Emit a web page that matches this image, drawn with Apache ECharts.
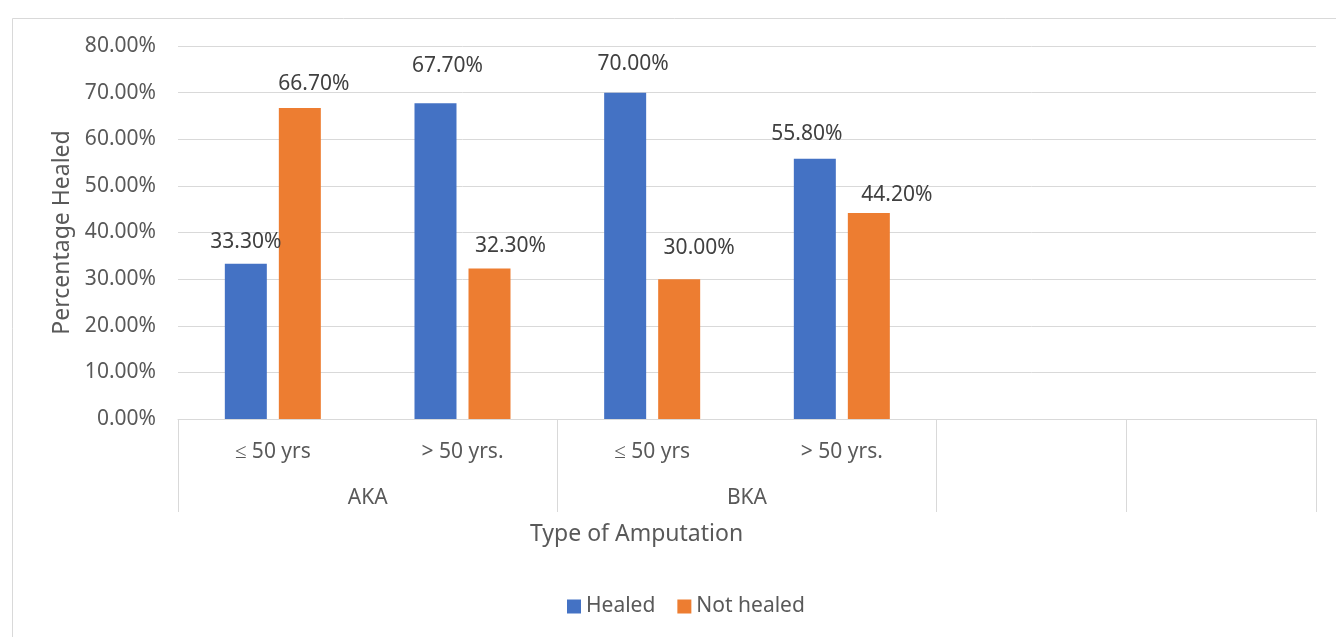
<!DOCTYPE html>
<html>
<head>
<meta charset="utf-8">
<script src="https://cdn.jsdelivr.net/npm/echarts@6/dist/echarts.min.js"></script>
<style>
  html, body { margin: 0; padding: 0; background: #fff; }
  #chart { width: 1336px; height: 637px; }
</style>
</head>
<body>
<div id="chart"></div>
<script>
// Age bands (inner axis level) and amputation types (outer level)
const ageBands = ['≤ 50 yrs', '> 50 yrs.', '≤ 50 yrs', '> 50 yrs.', '', ''];
const amputationTypes = ['AKA', 'BKA'];
// Outer group boundaries and centres, in category units
const groupBounds = [0, 2, 4, 5, 6];
const groupCentres = [1, 3];

// Percentages
const healed = [33.3, 67.7, 70.0, 55.8, null, null];
const notHealed = [66.7, 32.3, 30.0, 44.2, null, null];

// Value ticks on the y axis
const yTicks = { min: 0, max: 80, interval: 10 };

// Hand-placed label nudges [dx, dy]
const healedLabelShift = [[0, -6], [12, -22], [8, -13], [-8, -9]];
const notHealedLabelShift = [[14, -8], [21, -7], [20, -16], [28, -2]];

const FONT = 'Noto Sans';
const TEXT = '#595959';
const LINE = '#d9d9d9';

function withLabels(values, shifts) {
  return values.map((v, i) => {
    if (v === null) return null;
    const s = shifts[i] || [0, 0];
    return { value: v, label: { offset: s } };
  });
}

const labelStyle = {
  show: true,
  position: 'top',
  distance: 5,
  fontFamily: FONT,
  fontSize: 21,
  color: '#404040',
  formatter: p => p.value.toFixed(2) + '%'
};

const chart = echarts.init(document.getElementById('chart'), null, { renderer: 'canvas' });

chart.setOption({
  animation: false,
  backgroundColor: '#fff',
  grid: { left: 178, right: 20, top: 46, bottom: 218, containLabel: false },
  legend: {
    data: ['Healed', 'Not healed'],
    top: 591,
    left: 562,
    icon: 'rect',
    itemWidth: 14,
    itemHeight: 14,
    itemGap: 22,
    textStyle: { fontFamily: FONT, fontSize: 21, color: TEXT }
  },
  graphic: [
    {
      type: 'rect',
      left: 10, top: 16,
      shape: { width: 1340, height: 640 },
      style: { fill: 'none', stroke: LINE, lineWidth: 1 },
      silent: true
    },
    {
      type: 'text',
      left: 530, top: 523,
      style: { text: 'Type of Amputation', font: '23px "Noto Sans"', fill: TEXT }
    }
  ],
  xAxis: [
    {
      type: 'category',
      data: ageBands,
      boundaryGap: true,
      axisLine: { show: true, lineStyle: { color: LINE, width: 1 } },
      axisTick: { show: false },
      axisLabel: { margin: 23, fontFamily: FONT, fontSize: 21, color: TEXT, interval: 0 },
      splitLine: { show: false }
    },
    {
      type: 'value',
      min: 0,
      max: 6,
      position: 'bottom',
      axisLine: { show: false },
      axisTick: {
        show: true,
        customValues: groupBounds,
        length: 93,
        lineStyle: { color: LINE, width: 1 }
      },
      axisLabel: {
        show: true,
        customValues: groupCentres,
        margin: 69,
        fontFamily: FONT, fontSize: 21, color: TEXT,
        formatter: v => amputationTypes[groupCentres.indexOf(v)] || ''
      },
      splitLine: { show: false }
    }
  ],
  yAxis: {
    type: 'value',
    min: yTicks.min,
    max: yTicks.max,
    interval: yTicks.interval,
    name: 'Percentage Healed',
    nameLocation: 'middle',
    nameGap: 104,
    nameTextStyle: { fontFamily: FONT, fontSize: 23, color: TEXT },
    axisLine: { show: false },
    axisTick: { show: false },
    axisLabel: {
      margin: 22,
      fontFamily: FONT, fontSize: 21, color: TEXT,
      formatter: v => v.toFixed(2) + '%'
    },
    splitLine: { lineStyle: { color: LINE, width: 1 } }
  },
  series: [
    {
      name: 'Healed',
      type: 'bar',
      xAxisIndex: 0,
      data: withLabels(healed, healedLabelShift),
      barWidth: 42,
      barGap: '28.6%',
      itemStyle: { color: '#4472C4' },
      label: labelStyle
    },
    {
      name: 'Not healed',
      type: 'bar',
      xAxisIndex: 0,
      data: withLabels(notHealed, notHealedLabelShift),
      barWidth: 42,
      itemStyle: { color: '#ED7D31' },
      label: labelStyle
    }
  ]
});
</script>
</body>
</html>
